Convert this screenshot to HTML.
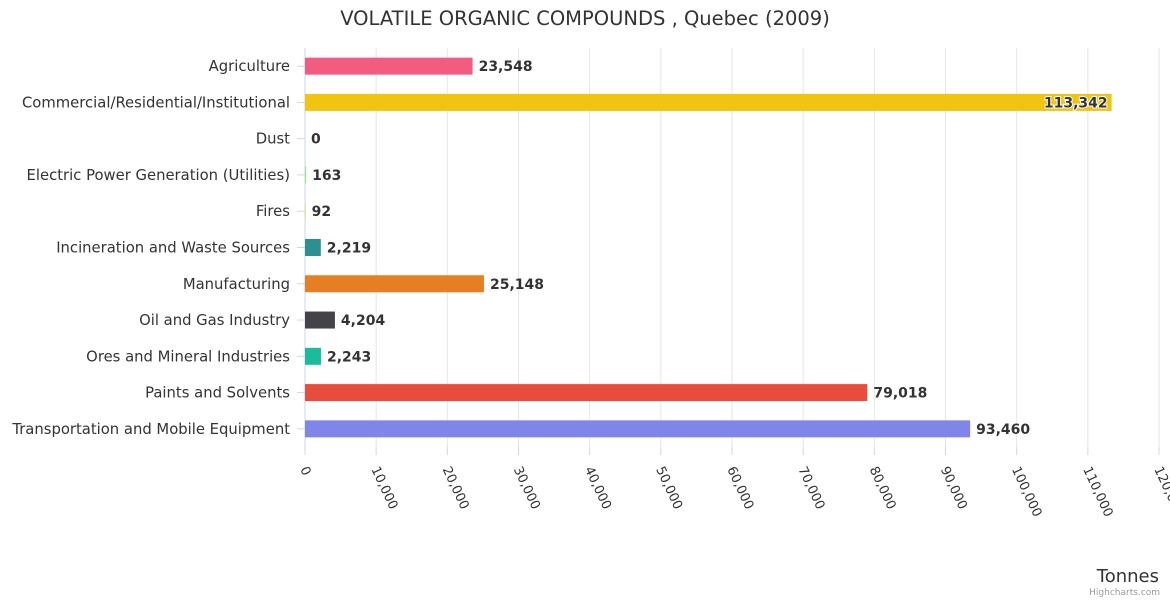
<!DOCTYPE html>
<html><head><meta charset="utf-8"><style>
body{margin:0;background:#fff;font-family:"DejaVu Sans",sans-serif}
svg text{font-family:"DejaVu Sans",sans-serif}
</style></head><body>
<svg id="c" width="1170" height="600">
<text x="585" y="25" text-anchor="middle" font-size="19.5" fill="#333">VOLATILE ORGANIC COMPOUNDS , Quebec (2009)</text>
<text x="1159" y="582" text-anchor="end" font-size="18" fill="#333">Tonnes</text>
<text x="1160" y="595" text-anchor="end" font-size="9" fill="#999">Highcharts.com</text>
<g id="grid"></g><g id="bars"></g><g id="labels"></g>
</svg>
<script>
const categories=["Agriculture","Commercial/Residential/Institutional","Dust","Electric Power Generation (Utilities)","Fires","Incineration and Waste Sources","Manufacturing","Oil and Gas Industry","Ores and Mineral Industries","Paints and Solvents","Transportation and Mobile Equipment"];
const values=[23548,113342,0,163,92,2219,25148,4204,2243,79018,93460];
const colors=["#f15c80","#f1c40f","#2b908f","#90ed7d","#e4d354","#2b908f","#e67e22","#434348","#1abc9c","#e74c3c","#8085e9"];
const ticks=[0,10000,20000,30000,40000,50000,60000,70000,80000,90000,100000,110000,120000];
const NS="http://www.w3.org/2000/svg";
const x0=305,x1=1159,y0=48,y1=447,max=120000;
const xs=v=>x0+(v/max)*(x1-x0);
const band=(y1-y0)/categories.length;
const ys=i=>y0+band*(i+0.5);
function mk(t,a,p){const e=document.createElementNS(NS,t);for(const k in a)e.setAttribute(k,a[k]);p.appendChild(e);return e;}
const grid=document.getElementById('grid'),bars=document.getElementById('bars'),labels=document.getElementById('labels');
ticks.forEach(t=>{
 const x=xs(t);
 if(t>0){const g=mk('line',{x1:x,x2:x,y1:y0,y2:y1,stroke:'#e6e6e6'},grid);
 
 }
 const tk=mk('line',{x1:x,x2:x,y1:y1,y2:y1+8,stroke:'#ccd6eb'},grid);
 
 
 const tl=mk('text',{x:x-5,y:y1+22,'font-size':13,fill:'#333',transform:`rotate(65 ${x-5} ${y1+22})`},labels);
 tl.textContent=t.toLocaleString('en-US');
 
 
});
const ax=mk('line',{x1:x0,x2:x0,y1:y0,y2:y1,stroke:'#ccd6eb'},grid);


categories.forEach((c,i)=>{
 const y=ys(i);
 const tk=mk('line',{x1:x0-8,x2:x0,y1:y,y2:y,stroke:'#ccd6eb'},grid);
 
 
 const l=mk('text',{x:290,y:y+5,'text-anchor':'end','font-size':14.8,fill:'#333'},labels);
 l.textContent=c;
 
 
 const w=xs(values[i])-x0;
 const r=mk('rect',{x:x0,y:y-8.5,width:Math.max(w,0),height:17,fill:colors[i]},bars);
 
 
 const inside=xs(values[i])>1100;
 const v=mk('text',{x:inside?xs(values[i])-4:xs(values[i])+6,y:y+5,'text-anchor':inside?'end':'start','font-size':14,'font-weight':'bold',fill:'#333',stroke:'#fff','stroke-width':inside?2:0,'paint-order':'stroke'},labels);
 v.textContent=values[i].toLocaleString('en-US');
 
 
});
</script>
</body></html>
